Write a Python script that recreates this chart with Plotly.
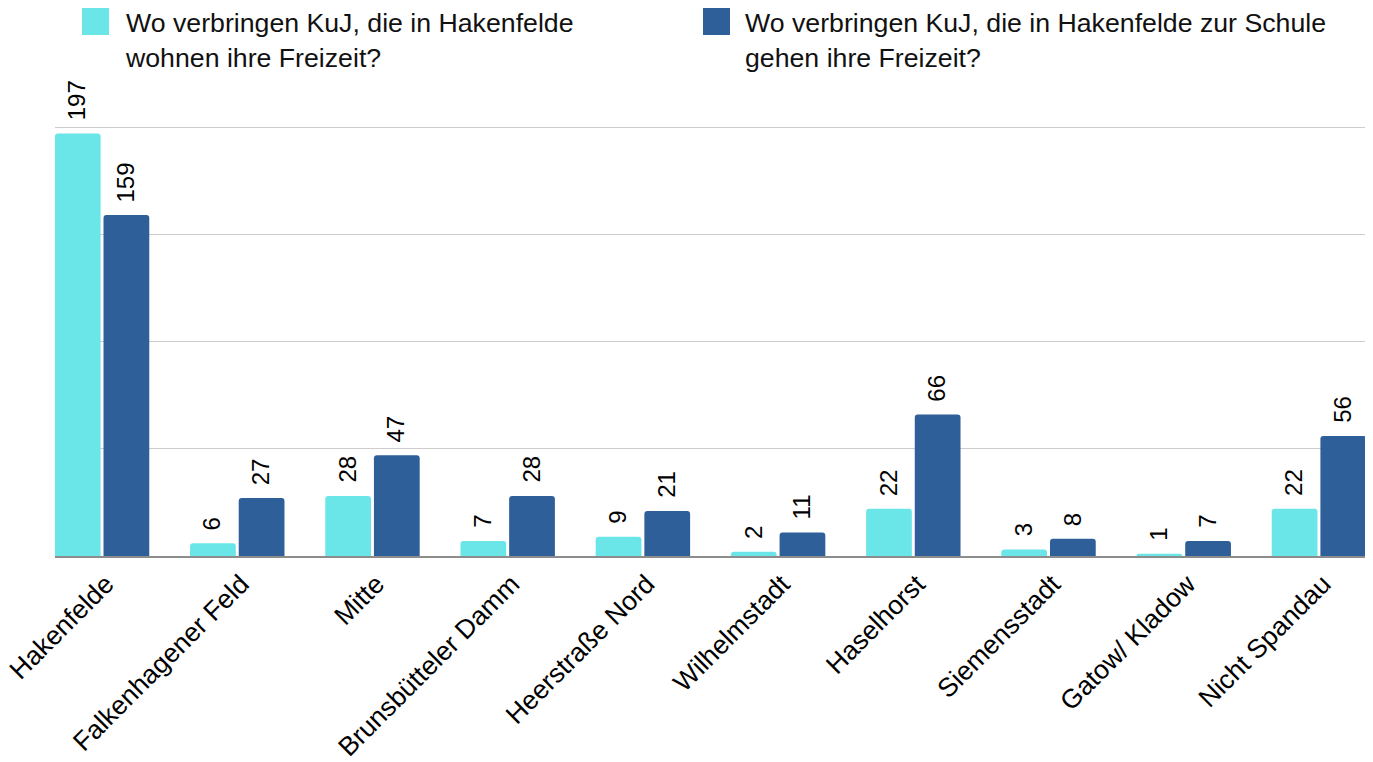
import plotly.graph_objects as go

categories = ["Hakenfelde", "Falkenhagener Feld", "Mitte", "Brunsbütteler Damm",
              "Heerstraße Nord", "Wilhelmstadt", "Haselhorst", "Siemensstadt",
              "Gatow/ Kladow", "Nicht Spandau"]
wohnen = [197, 6, 28, 7, 9, 2, 22, 3, 1, 22]
schule = [159, 27, 47, 28, 21, 11, 66, 8, 7, 56]
series_names = ["Wo verbringen KuJ, die in Hakenfelde<br>wohnen ihre Freizeit?",
                "Wo verbringen KuJ, die in Hakenfelde zur Schule<br>gehen ihre Freizeit?"]
colors = ["#6BE6E8", "#2E5F99"]

# page body has an 8px margin; figure coordinates are page coordinates minus 8
OFF = 8
W, H = 1373 - OFF, 762 - OFF
ML = 55 - OFF
MR = W - (1366 - OFF)
MT = 125 - OFF
MB = H - (556 - OFF)
PW = W - ML - MR
PH = H - MT - MB
FONT = "Liberation Sans, Arial, sans-serif"

fig = go.Figure()
for vals, name, col in zip([wohnen, schule], series_names, colors):
    fig.add_trace(go.Bar(x=categories, y=vals, name=name, marker_color=col,
                         marker_line_width=0, showlegend=False))

annotations = []
offset = 24.4
for vals, sh in [(wohnen, -offset), (schule, offset)]:
    for c, v in zip(categories, vals):
        annotations.append(dict(x=c, y=v, xref="x", yref="y", text=str(v),
                                showarrow=False, textangle=-90, xanchor="center",
                                yanchor="bottom", xshift=sh - 1, yshift=11,
                                font=dict(size=24, color="#000", family=FONT)))

def px2x(px):
    return (px - OFF - ML) / PW

def py2y(py):
    return (H - MB - (py - OFF)) / PH

shapes = []
legend_pos = [(82, 124), (703, 744)]
for (sx, tx), name, col in zip(legend_pos, series_names, colors):
    shapes.append(dict(type="rect", xref="paper", yref="paper",
                       x0=px2x(sx), x1=px2x(sx + 27), y0=py2y(35), y1=py2y(7),
                       fillcolor=col, line_width=0))
    annotations.append(dict(x=px2x(tx), y=py2y(7), xref="paper", yref="paper",
                            text=name, showarrow=False, xanchor="left", yanchor="top",
                            align="left", borderpad=0,
                            font=dict(size=26.7, color="#111", family=FONT)))

fig.update_layout(
    width=W, height=H,
    margin=dict(l=ML, r=MR, t=MT, b=MB, pad=0, autoexpand=False),
    plot_bgcolor="white", paper_bgcolor="white",
    barmode="group", bargap=0.28, bargroupgap=0.06, barcornerradius=3,
    font=dict(family=FONT, size=24, color="#000"),
    xaxis=dict(type="category", range=[-0.348, 9.348], tickangle=-45,
               tickfont=dict(size=26.5, color="#000"), showline=True,
               linecolor="#8c8c8c", linewidth=2, ticks="", showgrid=False,
               automargin=False, ticklabelshift=4),
    yaxis=dict(range=[0, 201], tickvals=[50, 100, 150, 200], showticklabels=False,
               showgrid=True, gridcolor="#cccccc", gridwidth=1, zeroline=False,
               showline=False, automargin=False),
    annotations=annotations, shapes=shapes,
)
fig.write_html("out.html")
